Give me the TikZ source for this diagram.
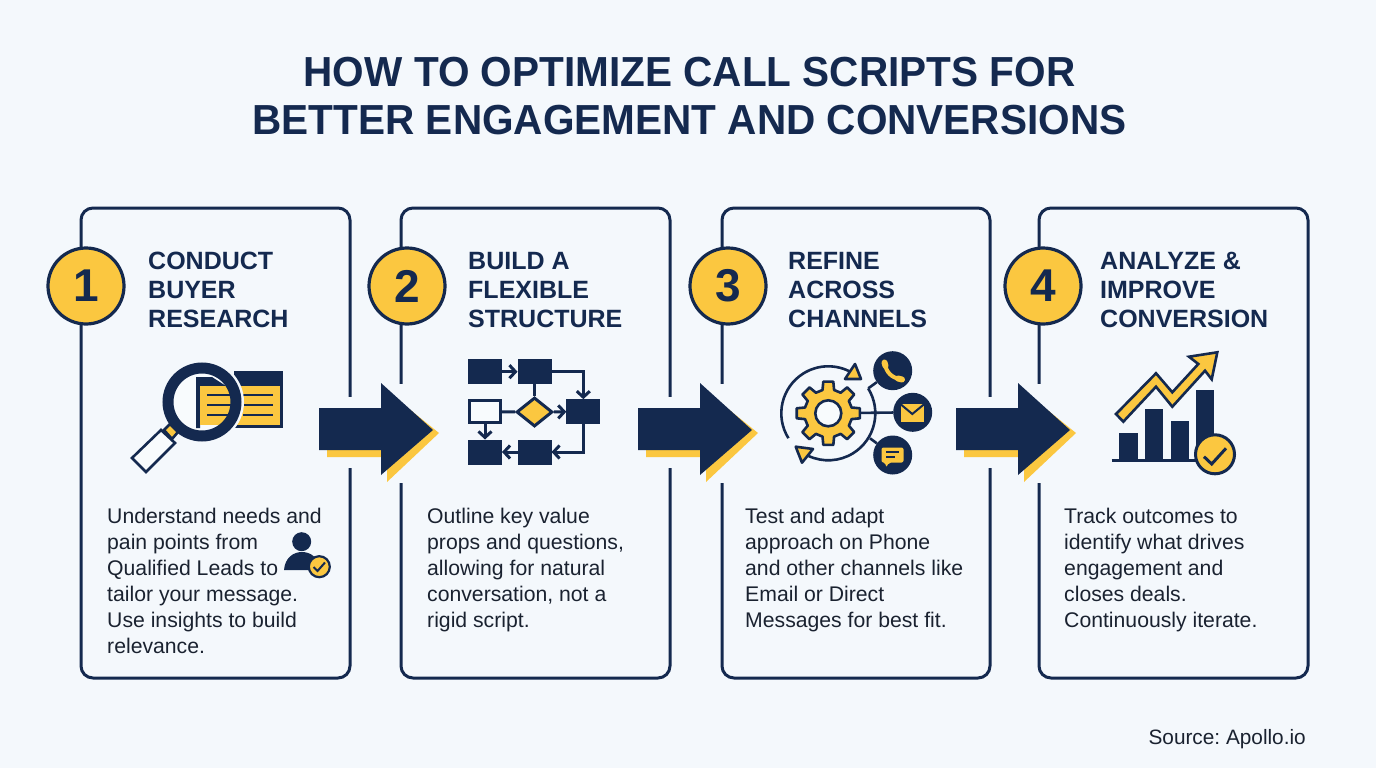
\documentclass[tikz,border=0pt]{standalone}
\usepackage{fontspec}
\setmainfont{Liberation Sans}
\newfontfamily\titlefont[BoldFeatures={FakeStretch=0.965}]{Liberation Sans}
\frenchspacing
\usetikzlibrary{arrows.meta}
\usetikzlibrary{shapes.geometric}
\definecolor{navy}{HTML}{14294F}
\definecolor{gold}{HTML}{FBC740}
\definecolor{paper}{HTML}{F4F8FC}
\definecolor{ink}{HTML}{1A2230}
\tikzset{
  panel/.style={draw=navy, line width=3pt, rounded corners=12pt},
  badge/.style={circle, draw=navy, fill=gold, line width=3.2pt, minimum size=76pt, inner sep=0pt, text=navy, font=\fontsize{46}{46}\selectfont\bfseries},
  heading/.style={anchor=north west, align=left, inner sep=0pt, text=navy, font=\fontsize{25}{29}\selectfont\bfseries},
  bodytext/.style={anchor=north west, align=left, inner sep=0pt, text=ink, font=\fontsize{21.2}{25.9}\selectfont},
  gapcut/.style={fill=paper, draw=none},
  flowbox/.style={rectangle, fill=navy, draw=navy, line width=1pt, minimum width=33pt, minimum height=24pt, inner sep=0pt},
  flowline/.style={draw=navy, line width=3pt, -{Straight Barb[length=6pt,width=13pt]}},
  iconline/.style={draw=navy, line width=2.6pt},
  channel/.style={circle, fill=navy, minimum size=39pt, inner sep=0pt},
}
\begin{document}
\begin{tikzpicture}[x=1pt,y=-1pt]
  \fill[paper] (0,0) rectangle (1376,768);
  \useasboundingbox (0,0) rectangle (1376,768);

  % title
  \node[align=center, text=navy, font=\fontsize{42}{48}\titlefont\bfseries] (title) at (689.5,96) {HOW TO OPTIMIZE CALL SCRIPTS FOR\\BETTER ENGAGEMENT AND CONVERSIONS};

  % panels
  \draw[panel] (81,208) rectangle (350,678);
  \draw[panel] (401,208) rectangle (670,678);
  \draw[panel] (722,208) rectangle (990,678);
  \draw[panel] (1039,208) rectangle (1308,678);

  % number badges
  \node[badge] (badgeA) at (86,286) {1};
  \node[badge] (badgeB) at (407,286) {2};
  \node[badge] (badgeC) at (728,286) {3};
  \node[badge] (badgeD) at (1043,286) {4};

  % headings
  \node[heading] (headA) at (148,251.5) {CONDUCT\\BUYER\\RESEARCH};
  \node[heading] (headB) at (468,251.5) {\vphantom{C}BUILD A\\FLEXIBLE\\STRUCTURE};
  \node[heading] (headC) at (788,251.5) {\vphantom{C}REFINE\\ACROSS\\CHANNELS};
  \node[heading] (headD) at (1100,251.5) {ANALYZE \&\\IMPROVE\\CONVERSION};

  % body texts
  \node[bodytext] (textA) at (107,508) {Understand needs and\\pain points from\\Qualified Leads to\\tailor your message.\\Use insights to build\\relevance.};
  \node[bodytext] (textB) at (427,508) {Outline key value\\props and questions,\\allowing for natural\\conversation, not a\\rigid script.};
  \node[bodytext] (textC) at (745,508) {Test and adapt\\approach on Phone\\and other channels like\\Email or Direct\\Messages for best fit.};
  \node[bodytext] (textD) at (1064,508) {Track outcomes to\\identify what drives\\engagement and\\closes deals.\\Continuously iterate.};

  % source
  \node[anchor=base east, inner sep=0pt, text=ink, font=\fontsize{20.8}{24}\selectfont] (source) at (1306,744) {Source: Apollo.io};

  % gaps in the panel edges
  \fill[gapcut] (344,397) rectangle (356,468);
  \fill[gapcut] (395,384) rectangle (407,483);
  \fill[gapcut] (664,397) rectangle (676,468);
  \fill[gapcut] (716,384) rectangle (728,483);
  \fill[gapcut] (984,397) rectangle (996,468);
  \fill[gapcut] (1033,384) rectangle (1045,483);

  % block arrows
  \fill[gold] (327,430) -- (387,430) -- (387,391) -- (439,433) -- (387,482) -- (387,457) -- (327,457) -- cycle;
  \fill[navy] (319,408) -- (381,408) -- (381,383) -- (433,430) -- (381,475) -- (381,450) -- (319,450) -- cycle;
  \fill[gold] (646,430) -- (706,430) -- (706,391) -- (758,433) -- (706,482) -- (706,457) -- (646,457) -- cycle;
  \fill[navy] (638,408) -- (700,408) -- (700,383) -- (752,430) -- (700,475) -- (700,450) -- (638,450) -- cycle;
  \fill[gold] (964,430) -- (1024,430) -- (1024,391) -- (1076,433) -- (1024,482) -- (1024,457) -- (964,457) -- cycle;
  \fill[navy] (956,408) -- (1018,408) -- (1018,383) -- (1070,430) -- (1018,475) -- (1018,450) -- (956,450) -- cycle;

  % magnifier icon
  \fill[navy] (234,371) rectangle (283,428);
  \fill[gold] (236,386) rectangle (280,425);
  \draw[iconline] (236,395) -- (273,395);
  \draw[iconline] (236,405) -- (273,405);
  \draw[iconline] (243,415) -- (273,415);
  \draw[paper, line width=16pt] (202,402) circle (34);
  \begin{scope}
    \clip (202,402) circle (29);
    \fill[white!40!paper] (170,370) rectangle (235,435);
    \fill[navy] (196,377) -- (212,377) -- (226,386) -- (226,388) -- (200,388) -- (200,428) -- (196,428) -- cycle;
    \fill[gold] (200,386) rectangle (235,425);
    \draw[iconline] (207,395) -- (232,395);
    \draw[iconline] (207,405) -- (232,405);
    \draw[iconline] (207,415) -- (232,415);
  \end{scope}
  \draw[navy, line width=11pt] (202,402) circle (34);
  \draw[iconline, fill=gold] (164,430) -- (170,424) -- (178,432) -- (172,439) -- cycle;
  \draw[iconline, fill=white!40!paper] (132,458) -- (161,430) -- (175,443) -- (146,472) -- cycle;

  % person with check mark
  \fill[navy] (301.7,541.7) circle (9.5);
  \fill[navy] (284,570) .. controls (285,558) and (293,552) .. (302,552) .. controls (311,552) and (319,558) .. (320,570) -- cycle;
  \node[circle, draw=navy, fill=gold, line width=2.2pt, minimum size=21pt, inner sep=0pt] (personBadge) at (319.3,566.7) {};
  \draw[navy, line width=2pt] (313.5,567) -- (317.5,571) -- (325,562.5);

  % flow chart icon
  \node[flowbox] (flowA) at (485,371.7) {};
  \node[flowbox] (flowB) at (534.5,371.7) {};
  \node[flowbox] (flowC) at (583.3,411.7) {};
  \node[flowbox, fill=white!40!paper, line width=3pt, minimum width=31pt, minimum height=22pt] (flowW) at (485,411.7) {};
  \node[diamond, draw=navy, fill=gold, line width=3pt, minimum width=36pt, minimum height=29pt, inner sep=0pt] (flowQ) at (534.5,412) {};
  \node[flowbox] (flowD) at (485,452) {};
  \node[flowbox] (flowE) at (534.5,452) {};
  \draw[flowline] (flowA) -- (flowB);
  \draw[flowline] (flowB.east) -| (flowC.north);
  \draw[flowline, -] (flowB) -- (flowQ);
  \draw[flowline, -] (flowW) -- (flowQ);
  \draw[flowline] (flowQ) -- (flowC);
  \draw[flowline] (flowW) -- (flowD);
  \draw[flowline] (flowC.south) |- (flowE.east);
  \draw[flowline] (flowE) -- (flowD);

  % gear icon
  \coordinate (gearHub) at (828.3,413.3);
  \coordinate (phoneJoin) at (868.3,388.3);
  \coordinate (chatJoin) at (870,438.3);
  \node[channel] (chanPhone) at (892.7,370.7) {};
  \node[channel] (chanMail) at (912.7,412.3) {};
  \node[channel] (chanChat) at (892.7,455) {};
  \draw[iconline] (gearHub) -- (chanMail);
  \draw[iconline] (phoneJoin) -- (chanPhone);
  \draw[iconline] (chatJoin) -- (chanChat);
  \draw[iconline] (gearHub) ++(148:47) arc[start angle=148, end angle=300, radius=47];
  \draw[iconline] (gearHub) ++(-32:47) arc[start angle=-32, end angle=115, radius=47];
  \draw[iconline, fill=gold, line join=round] (855,364) -- (861,379) -- (845,379) -- cycle;
  \draw[iconline, fill=gold, line join=round] (795.7,446.7) -- (813,449) -- (802,462.7) -- cycle;
  \begin{scope}[shift={(gearHub)}]
    \draw[iconline, fill=gold, line join=round] (-9:32) \foreach \a in {0,45,...,315} { -- (\a-9:32) -- (\a+9:32) -- (\a+14:24) -- (\a+31:24) } -- cycle;
    \draw[navy, line width=2.6pt, fill=white!40!paper] (0,0) circle (13);
  \end{scope}
  % phone glyph
  \draw[gold, line width=4pt, line cap=round] (885,364) .. controls (886,372) and (892,378) .. (900,379);
  \draw[gold, line width=6pt, line cap=round] (884.5,362.5) -- (885.5,366);
  \draw[gold, line width=6pt, line cap=round] (898,378.5) -- (902,379.5);
  % mail glyph
  \fill[gold] (900.7,404.3) rectangle (924,421.7);
  \draw[navy, line width=2pt] (900.7,404.3) -- (912.3,414) -- (924,404.3);
  % chat glyph
  \fill[gold, rounded corners=2pt] (881.5,447.5) -- (903.5,447.5) -- (903.5,462.5) -- (889,462.5) -- (886,467.5) -- (885.5,462.5) -- (881.5,462.5) -- cycle;
  \draw[navy, line width=1.6pt] (886,452) -- (899,452);
  \draw[navy, line width=1.6pt] (886,457) -- (895,457);

  % growth chart icon
  \fill[navy] (1119.3,432.7) rectangle (1137.7,460);
  \fill[navy] (1145,409.3) rectangle (1163.3,460);
  \fill[navy] (1170.7,421) rectangle (1189,460);
  \fill[navy] (1196,390) rectangle (1214,460);
  \draw[iconline] (1111.7,460.7) -- (1200,460.7);
  \draw[iconline, fill=gold, line join=miter] (1116,414) -- (1156,373.3) -- (1172.3,392.3) -- (1198.3,364) -- (1189,356.7) -- (1217.3,352.3) -- (1211.7,379.3) -- (1205,370.7) -- (1172.3,406.7) -- (1156,386.7) -- (1123.3,421.7) -- cycle;
  \node[circle, draw=navy, fill=gold, line width=3pt, minimum size=39pt, inner sep=0pt] (growthBadge) at (1215,454.3) {};
  \draw[navy, line width=3pt] (1204,456.7) -- (1211.7,464) -- (1226,448.3);
\end{tikzpicture}
\end{document}
